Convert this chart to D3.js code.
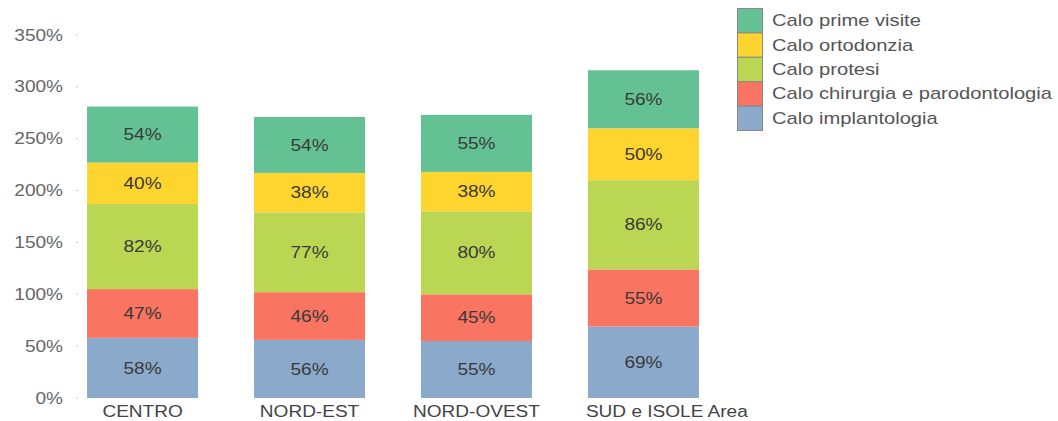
<!DOCTYPE html>
<html>
<head>
<meta charset="utf-8">
<script src="https://cdn.jsdelivr.net/npm/d3@7"></script>
<style>
  body { margin: 0; background: #fff; }
  text { font-family: "Liberation Sans", Arial, sans-serif; }
</style>
</head>
<body>
<div id="target"></div>
<script>
var WIDTH = 1058;
var HEIGHT = 421;
var SX = 1.19;   // text in the picture is drawn wide
var SX_LEG = 1.26;

// data
var regions = ["CENTRO", "NORD-EST", "NORD-OVEST", "SUD e ISOLE Area"];
var seriesNames = ["Calo implantologia", "Calo chirurgia e parodontologia", "Calo protesi", "Calo ortodonzia", "Calo prime visite"];
var implantologia = [58, 56, 55, 69];
var chirurgia = [47, 46, 45, 55];
var protesi = [82, 77, 80, 86];
var ortodonzia = [40, 38, 38, 50];
var primeVisite = [54, 54, 55, 56];
var yTicks = [0, 50, 100, 150, 200, 250, 300, 350];
var colors = ["#8ba9ca", "#f97461", "#bad652", "#fed52f", "#64c194"];

var seriesValues = [implantologia, chirurgia, protesi, ortodonzia, primeVisite];

var svg = d3.select("#target").append("svg").attr("width", WIDTH).attr("height", HEIGHT);

var x = d3.scaleBand().domain(regions).range([59, 727]).paddingInner(0.335).paddingOuter(0.168);
var y = d3.scaleLinear().domain([0, 350]).range([398, 35]);

var place = function(px, py, sx) {
  return "translate(" + px + "," + py + ") scale(" + (sx || SX) + ",1)";
};

// y axis labels + tiny tick marks
var yAxis = svg.append("g");
yTicks.forEach(function(t) {
  yAxis.append("text")
    .attr("transform", place(63, y(t)))
    .attr("dy", "0.35em")
    .attr("text-anchor", "end")
    .attr("font-size", 16)
    .attr("fill", "#666")
    .text(t + "%");
  yAxis.append("line")
    .attr("x1", 76).attr("x2", 78)
    .attr("y1", y(t)).attr("y2", y(t))
    .attr("stroke", "#ccc");
});

// stacked bars
var rows = regions.map(function(r, i) {
  var o = { region: r };
  seriesNames.forEach(function(s, j) { o[s] = seriesValues[j][i]; });
  return o;
});
var stack = d3.stack().keys(seriesNames)(rows);

stack.forEach(function(layer, j) {
  var g = svg.append("g");
  g.selectAll("rect").data(layer).enter().append("rect")
    .attr("x", function(d) { return x(d.data.region); })
    .attr("width", x.bandwidth())
    .attr("y", function(d) { return y(d[1]); })
    .attr("height", function(d) { return y(d[0]) - y(d[1]); })
    .attr("fill", colors[j]);
  g.selectAll("text").data(layer).enter().append("text")
    .attr("transform", function(d) {
      return place(x(d.data.region) + x.bandwidth() / 2, (y(d[0]) + y(d[1])) / 2);
    })
    .attr("dy", "0.35em")
    .attr("text-anchor", "middle")
    .attr("font-size", 16)
    .attr("fill", "#3a3a3a")
    .text(function(d) { return (d[1] - d[0]) + "%"; });
});

// category labels: centred, but long ones start at the bar's left edge
svg.append("g").selectAll("text").data(regions).enter().append("text")
  .attr("dy", "0.35em")
  .attr("font-size", 16)
  .attr("fill", "#444")
  .text(function(d) { return d; })
  .each(function(d) {
    var w = this.getComputedTextLength() * SX;
    var t = d3.select(this);
    if (w > x.step() * 0.9) {
      t.attr("text-anchor", "start").attr("transform", place(x(d) - 2, 411));
    } else {
      t.attr("text-anchor", "middle").attr("transform", place(x(d) + x.bandwidth() / 2, 411));
    }
  });

// legend (top item = last series)
var legend = svg.append("g").attr("transform", "translate(737,8)");
var legendOrder = seriesNames.slice().reverse();
var legendColors = colors.slice().reverse();
legendOrder.forEach(function(name, i) {
  legend.append("rect")
    .attr("x", 0.5).attr("y", i * 24.4 + 0.5)
    .attr("width", 25).attr("height", 24.4)
    .attr("fill", legendColors[i])
    .attr("stroke", "#888").attr("stroke-width", 1);
  legend.append("text")
    .attr("transform", place(35, i * 24.4 + 12.5, SX_LEG))
    .attr("dy", "0.35em")
    .attr("font-size", 16)
    .attr("fill", "#555")
    .text(name);
});
</script>
</body>
</html>
